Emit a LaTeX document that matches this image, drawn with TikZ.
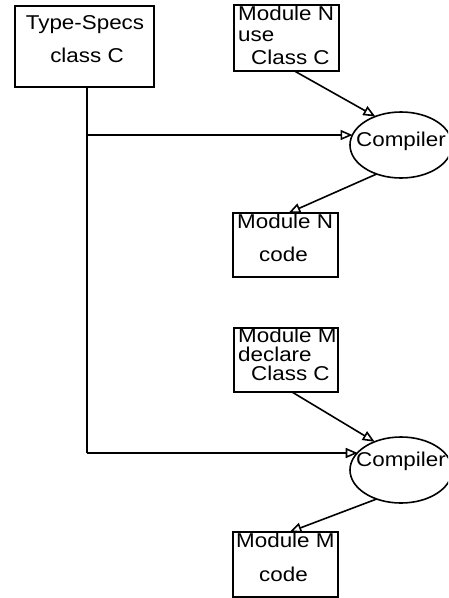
\documentclass[tikz,border=0pt]{standalone}
\usepackage{fontspec}
\setmainfont{Liberation Sans}[FakeStretch=1.12]
\usetikzlibrary{shapes.geometric,arrows.meta}
\begin{document}
\begin{tikzpicture}[x=1pt,y=-1pt,
  box/.style={draw,line width=1.6pt,rectangle,inner sep=0pt,outer sep=0pt,anchor=north west},
  comp/.style={draw,line width=1.6pt,ellipse,inner sep=0pt,minimum width=102pt,minimum height=66pt,outer sep=0pt},
  txt/.style={inner sep=0pt,anchor=base west,font=\fontsize{20}{22}\selectfont},
  ctxt/.style={inner sep=0pt,anchor=base,font=\fontsize{20}{22}\selectfont},
  conn/.style={line width=1.6pt},
  arr/.style={line width=1.6pt,-{Triangle[open,length=12pt,width=10pt]}}]
\useasboundingbox (0,0) rectangle (448,598);
\clip (0,0) rectangle (448,598);
% boxes
\node[box,minimum width=139pt,minimum height=81pt] (ts) at (15,6) {};
\node[box,minimum width=105pt,minimum height=66pt] (mnu) at (234,5) {};
\node[box,minimum width=105pt,minimum height=64pt] (mnc) at (233,213) {};
\node[box,minimum width=104pt,minimum height=64pt] (mmd) at (234,328) {};
\node[box,minimum width=105pt,minimum height=65pt] (mmc) at (233,532) {};
\node[comp] (c1) at (401,145) {};
\node[comp] (c2) at (401,470) {};
% texts
\node[ctxt] (ts1) at (85,29) {Type-Specs};
\node[ctxt] (ts2) at (87,62) {class C};
\node[txt] (mnu1) at (238,20) {Module N};
\node[txt] (mnu2) at (238,41) {use};
\node[txt] (mnu3) at (251,64) {Class C};
\node[txt] (mnc1) at (237,228) {Module N};
\node[txt] (mnc2) at (259,261) {code};
\node[txt] (mmd1) at (238,342) {Module M};
\node[txt] (mmd2) at (238,361) {declare};
\node[txt] (mmd3) at (251,380) {Class C};
\node[txt] (mmc1) at (236,547) {Module M};
\node[txt] (mmc2) at (259,581) {code};
\node[ctxt] (c1t) at (401,146) {Compiler};
\node[ctxt] (c2t) at (401,466) {Compiler};
% connectors
\coordinate (j1) at (87,135);
\coordinate (j2) at (87,453);
\draw[conn] (ts.south -| j1) -- (j2);
\draw[arr] (j1) -- (j1 -| c1.168);
\draw[arr] (j2) -- (j2 -| c2.158);
\draw[arr] ([xshift=8pt]mnu.south) -- (c1.132);
\draw[arr] (c1.230) -- ([xshift=3pt]mnc.north);
\draw[arr] ([xshift=6pt]mmd.south) -- (c2.133);
\draw[arr] (c2.230) -- ([xshift=4pt]mmc.north);
\end{tikzpicture}
\end{document}
